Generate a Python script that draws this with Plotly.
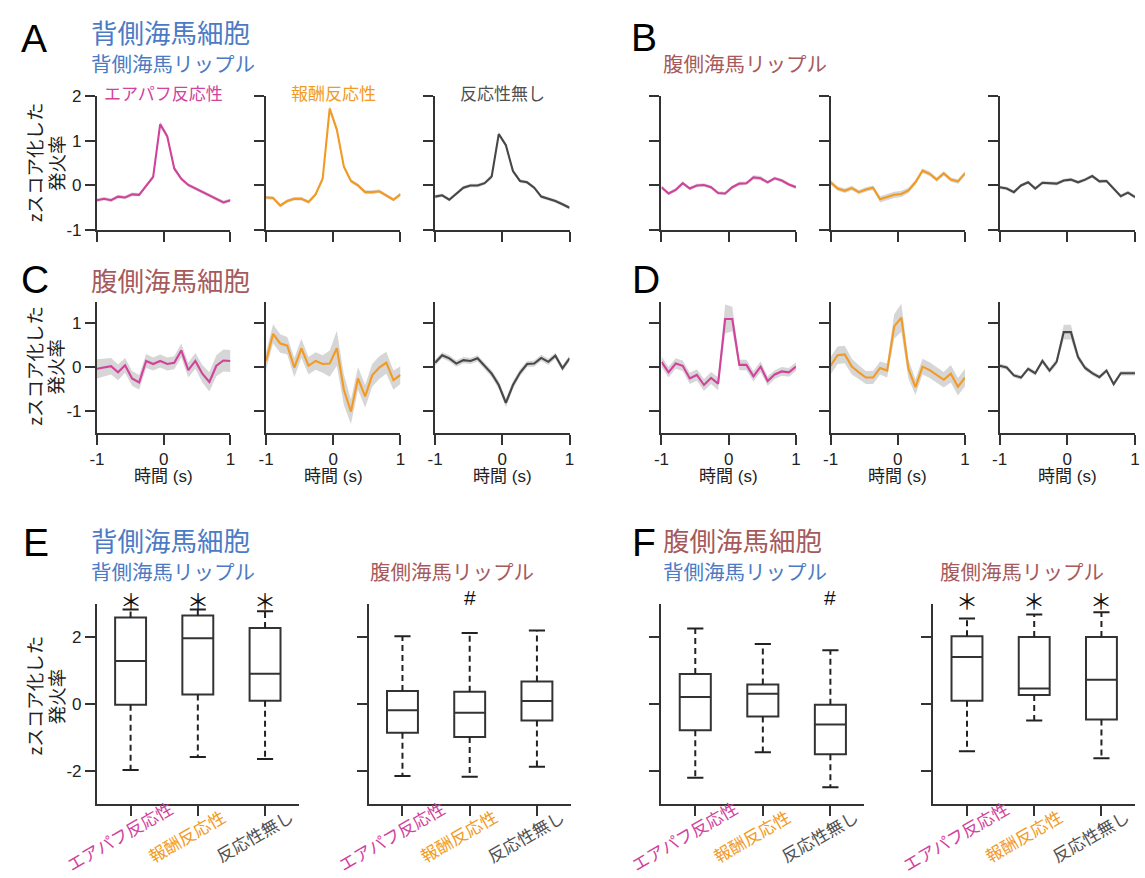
import plotly.graph_objects as go

W, H = 1145, 878

# ---------------- data ----------------
time_s = [-1.0, -0.895, -0.789, -0.684, -0.579, -0.474, -0.368, -0.263, -0.158, -0.053,
          0.053, 0.158, 0.263, 0.368, 0.474, 0.579, 0.684, 0.789, 0.895, 1.0]

# A: dorsal cells, dorsal ripples
A_air = [-0.33, -0.30, -0.33, -0.25, -0.27, -0.20, -0.21, 0.00, 0.19, 1.37, 1.10, 0.38, 0.15, 0.01, -0.07, -0.15, -0.22, -0.30, -0.38, -0.33]
A_rew = [-0.27, -0.28, -0.45, -0.35, -0.30, -0.30, -0.37, -0.20, 0.15, 1.72, 1.25, 0.42, 0.10, 0.00, -0.15, -0.15, -0.13, -0.22, -0.32, -0.20]
A_non = [-0.25, -0.22, -0.32, -0.18, -0.05, 0.00, 0.00, 0.05, 0.20, 1.15, 0.90, 0.32, 0.10, 0.07, -0.05, -0.25, -0.30, -0.35, -0.42, -0.50]
A_air_sem = [0.04, 0.04, 0.04, 0.04, 0.04, 0.04, 0.04, 0.04, 0.05, 0.06, 0.06, 0.05, 0.04, 0.04, 0.04, 0.04, 0.04, 0.04, 0.04, 0.04]
A_rew_sem = [0.04, 0.04, 0.04, 0.04, 0.04, 0.04, 0.04, 0.04, 0.05, 0.07, 0.06, 0.05, 0.04, 0.04, 0.04, 0.04, 0.04, 0.04, 0.04, 0.04]
A_non_sem = [0.04, 0.04, 0.04, 0.04, 0.04, 0.04, 0.04, 0.04, 0.05, 0.05, 0.05, 0.05, 0.04, 0.04, 0.04, 0.04, 0.04, 0.04, 0.04, 0.04]

# B: dorsal cells, ventral ripples
B_air = [-0.04, -0.18, -0.10, 0.05, -0.07, 0.00, 0.01, -0.04, -0.17, -0.18, -0.04, 0.04, 0.05, 0.18, 0.16, 0.07, 0.16, 0.11, 0.02, -0.04]
B_rew = [0.07, -0.07, -0.12, -0.06, -0.15, -0.09, -0.05, -0.31, -0.26, -0.21, -0.19, -0.11, 0.07, 0.33, 0.26, 0.13, 0.27, 0.13, 0.09, 0.27]
B_non = [-0.04, -0.07, -0.15, 0.00, 0.07, -0.07, 0.06, 0.05, 0.04, 0.11, 0.13, 0.07, 0.13, 0.21, 0.09, 0.10, -0.06, -0.24, -0.16, -0.26]
B_air_sem = [0.04, 0.04, 0.04, 0.04, 0.04, 0.04, 0.04, 0.04, 0.04, 0.04, 0.04, 0.04, 0.04, 0.05, 0.05, 0.04, 0.04, 0.04, 0.04, 0.04]
B_rew_sem = [0.05, 0.05, 0.05, 0.05, 0.05, 0.05, 0.05, 0.07, 0.07, 0.07, 0.07, 0.06, 0.05, 0.05, 0.05, 0.05, 0.05, 0.05, 0.05, 0.05]
B_non_sem = [0.04, 0.04, 0.04, 0.04, 0.04, 0.04, 0.04, 0.04, 0.04, 0.04, 0.04, 0.04, 0.04, 0.04, 0.04, 0.04, 0.04, 0.04, 0.04, 0.04]

# C: ventral cells, dorsal ripples
C_air = [-0.04, -0.01, 0.02, -0.12, 0.04, -0.26, -0.35, 0.14, 0.07, 0.14, 0.07, 0.10, 0.38, -0.07, 0.14, -0.15, -0.34, 0.03, 0.15, 0.14]
C_rew = [0.14, 0.76, 0.54, 0.49, -0.01, 0.43, 0.03, 0.14, 0.07, 0.08, 0.43, -0.52, -1.02, -0.26, -0.67, -0.19, -0.01, 0.10, -0.30, -0.18]
C_non = [0.10, 0.27, 0.20, 0.08, 0.16, 0.14, 0.20, 0.03, -0.15, -0.41, -0.82, -0.41, -0.13, 0.07, 0.08, 0.21, 0.12, 0.26, -0.03, 0.20]
C_air_sem = [0.22, 0.20, 0.19, 0.18, 0.17, 0.17, 0.17, 0.16, 0.15, 0.15, 0.15, 0.15, 0.16, 0.17, 0.18, 0.20, 0.22, 0.24, 0.25, 0.25]
C_rew_sem = [0.20, 0.22, 0.21, 0.20, 0.22, 0.22, 0.20, 0.20, 0.20, 0.30, 0.40, 0.35, 0.28, 0.26, 0.26, 0.26, 0.26, 0.25, 0.22, 0.20]
C_non_sem = [0.07, 0.07, 0.07, 0.07, 0.07, 0.07, 0.07, 0.07, 0.08, 0.09, 0.10, 0.09, 0.08, 0.07, 0.07, 0.07, 0.07, 0.07, 0.07, 0.07]

# D: ventral cells, ventral ripples
D_air = [0.12, -0.12, 0.08, 0.03, -0.26, -0.18, -0.41, -0.25, -0.38, 1.10, 1.10, 0.05, 0.05, -0.21, 0.01, -0.32, -0.17, -0.10, -0.12, 0.01]
D_rew = [0.03, 0.27, 0.29, 0.01, -0.12, -0.24, -0.24, -0.02, -0.08, 0.93, 1.13, -0.04, -0.46, 0.01, -0.07, -0.19, -0.29, -0.15, -0.45, -0.24]
D_non = [0.03, -0.01, -0.19, -0.24, -0.04, -0.14, 0.14, -0.08, 0.12, 0.80, 0.80, 0.23, -0.02, -0.14, -0.23, -0.08, -0.39, -0.14, -0.14, -0.14]
D_air_sem = [0.12, 0.12, 0.12, 0.12, 0.13, 0.13, 0.14, 0.14, 0.15, 0.33, 0.28, 0.12, 0.12, 0.12, 0.12, 0.11, 0.10, 0.10, 0.10, 0.10]
D_rew_sem = [0.20, 0.20, 0.20, 0.18, 0.16, 0.15, 0.15, 0.15, 0.16, 0.28, 0.32, 0.22, 0.18, 0.18, 0.18, 0.18, 0.18, 0.20, 0.20, 0.20]
D_non_sem = [0.05, 0.05, 0.05, 0.05, 0.05, 0.05, 0.06, 0.06, 0.07, 0.17, 0.17, 0.08, 0.06, 0.05, 0.05, 0.05, 0.05, 0.05, 0.05, 0.05]

# box plots: z-scored firing rate, groups = air-puff / reward / non-responsive
box_groups = ["エアパフ反応性", "報酬反応性", "反応性無し"]

E_dr_lower = [-1.97, -1.58, -1.64]
E_dr_q1 = [-0.02, 0.29, 0.10]
E_dr_med = [1.29, 1.97, 0.91]
E_dr_q3 = [2.59, 2.65, 2.28]
E_dr_upper = [2.83, 2.83, 2.78]
E_dr_sig = ["＊", "＊", "＊"]

E_vr_lower = [-2.15, -2.17, -1.87]
E_vr_q1 = [-0.86, -0.98, -0.49]
E_vr_med = [-0.18, -0.26, 0.09]
E_vr_q3 = [0.39, 0.37, 0.68]
E_vr_upper = [2.03, 2.13, 2.20]
E_vr_sig = ["", "#", ""]

F_dr_lower = [-2.20, -1.44, -2.49]
F_dr_q1 = [-0.78, -0.37, -1.50]
F_dr_med = [0.21, 0.31, -0.61]
F_dr_q3 = [0.90, 0.59, -0.02]
F_dr_upper = [2.26, 1.80, 1.61]
F_dr_sig = ["", "", "#"]

F_vr_lower = [-1.41, -0.49, -1.62]
F_vr_q1 = [0.10, 0.27, -0.46]
F_vr_med = [1.41, 0.47, 0.73]
F_vr_q3 = [2.03, 2.01, 2.01]
F_vr_upper = [2.56, 2.68, 2.75]
F_vr_sig = ["＊", "＊", "＊"]

# ---------------- style ----------------
PINK = "#D2419B"
ORANGE = "#F29A22"
GRAYL = "#474747"
GRAYT = "#505050"
BLUE = "#4B7BC4"
BROWN = "#A65A5C"
AXC = "#333333"
BAND = "rgba(165,165,165,0.45)"
FONT = "Liberation Sans, Noto Sans CJK JP, sans-serif"
JFONT = "Noto Sans CJK JP, sans-serif"
group_colors = [PINK, ORANGE, GRAYT]


def fx(p):
    return p / W


def fy(p):
    return 1 - p / H


AX = dict(showline=True, linecolor=AXC, linewidth=2, ticks="outside", ticklen=10,
          tickwidth=2, tickcolor=AXC, showgrid=False, zeroline=False,
          tickfont=dict(size=17, color="#222222", family=FONT), fixedrange=True)

fig = go.Figure()
layout = {}
annotations = []


def ann(text, x, y, size, color="#000000", xanchor="left", yanchor="middle",
        angle=0, family=JFONT, xref="paper", yref="paper", xshift=0):
    annotations.append(dict(
        text=text, x=fx(x) if xref == "paper" else x,
        y=fy(y) if yref == "paper" else y, xref=xref, yref=yref,
        xanchor=xanchor, yanchor=yanchor, textangle=angle, showarrow=False,
        xshift=xshift, font=dict(size=size, color=color, family=family)))


# ---------------- line panels ----------------
col_px = [[(90, 225), (261, 397), (432, 568)], [(661, 797), (832, 968), (1003, 1140)]]
row_px = [(89, 226), (299, 433)]
row_range = [[-1, 2], [-1.5, 1.5]]
row_ticks = [[-1, 0, 1, 2], [-1, 0, 1]]

line_sets = [
    [(A_air, A_air_sem), (A_rew, A_rew_sem), (A_non, A_non_sem)],
    [(B_air, B_air_sem), (B_rew, B_rew_sem), (B_non, B_non_sem)],
    [(C_air, C_air_sem), (C_rew, C_rew_sem), (C_non, C_non_sem)],
    [(D_air, D_air_sem), (D_rew, D_rew_sem), (D_non, D_non_sem)],
]
line_colors = [PINK, ORANGE, GRAYL]

n = 0
for r in range(2):
    for g in range(2):
        series = line_sets[r * 2 + g]
        for c in range(3):
            n += 1
            xs = "x" if n == 1 else f"x{n}"
            ys = "y" if n == 1 else f"y{n}"
            vals, sem = series[c]
            up = [v + s for v, s in zip(vals, sem)]
            lo = [v - s for v, s in zip(vals, sem)]
            fig.add_trace(go.Scatter(x=time_s + time_s[::-1], y=up + lo[::-1], fill="toself",
                                     fillcolor=BAND, line=dict(width=0), mode="lines",
                                     hoverinfo="skip", showlegend=False, xaxis=xs, yaxis=ys))
            fig.add_trace(go.Scatter(x=time_s, y=vals, mode="lines",
                                     line=dict(color=line_colors[c], width=2.1),
                                     showlegend=False, xaxis=xs, yaxis=ys))
            x0, x1 = col_px[g][c]
            y0, y1 = row_px[r]
            xa = dict(AX, domain=[fx(x0), fx(x1)], range=[-1, 1], tickvals=[-1, 0, 1],
                      ticktext=["-1", "0", "1"], showticklabels=(r == 1), anchor=ys)
            ya = dict(AX, domain=[fy(y1), fy(y0)], range=row_range[r], tickvals=row_ticks[r],
                      ticktext=[str(t) for t in row_ticks[r]],
                      showticklabels=(g == 0 and c == 0), anchor=xs)
            layout["xaxis" if n == 1 else f"xaxis{n}"] = xa
            layout["yaxis" if n == 1 else f"yaxis{n}"] = ya
            if r == 1:
                ann("時間 (s)", (x0 + x1) / 2, 478, 17, "#222222", xanchor="center", family=FONT)

# ---------------- box panels ----------------
box_px = [(90, 294), (365, 569), (661, 866), (936, 1140)]
box_y = (608, 813)
box_sets = [
    (E_dr_lower, E_dr_q1, E_dr_med, E_dr_q3, E_dr_upper, E_dr_sig),
    (E_vr_lower, E_vr_q1, E_vr_med, E_vr_q3, E_vr_upper, E_vr_sig),
    (F_dr_lower, F_dr_q1, F_dr_med, F_dr_q3, F_dr_upper, F_dr_sig),
    (F_vr_lower, F_vr_q1, F_vr_med, F_vr_q3, F_vr_upper, F_vr_sig),
]
cats = [0, 1, 2]
CAP = 0.12
for b, (lower, q1, med, q3, upper, sig) in enumerate(box_sets):
    n += 1
    xs, ys = f"x{n}", f"y{n}"
    fig.add_trace(go.Box(x=cats, q1=q1, median=med, q3=q3, lowerfence=q1, upperfence=q3,
                         width=0.46, whiskerwidth=0, boxpoints=False,
                         line=dict(color=AXC, width=2), fillcolor="rgba(0,0,0,0)",
                         showlegend=False, xaxis=xs, yaxis=ys))
    wx, wy, cx, cy = [], [], [], []
    for i in cats:
        wx += [i, i, None, i, i, None]
        wy += [q3[i], upper[i], None, q1[i], lower[i], None]
        cx += [i - CAP, i + CAP, None, i - CAP, i + CAP, None]
        cy += [upper[i], upper[i], None, lower[i], lower[i], None]
    fig.add_trace(go.Scatter(x=wx, y=wy, mode="lines", line=dict(color="#222222", width=2, dash="6px,4px"),
                             showlegend=False, hoverinfo="skip", xaxis=xs, yaxis=ys))
    fig.add_trace(go.Scatter(x=cx, y=cy, mode="lines", line=dict(color="#222222", width=2),
                             showlegend=False, hoverinfo="skip", xaxis=xs, yaxis=ys))
    x0, x1 = box_px[b]
    layout[f"xaxis{n}"] = dict(AX, domain=[fx(x0), fx(x1)], range=[-0.5, 2.5], tickvals=cats,
                               showticklabels=False, anchor=ys)
    layout[f"yaxis{n}"] = dict(AX, domain=[fy(box_y[1]), fy(box_y[0])], range=[-3, 3],
                               tickvals=[-2, 0, 2], ticktext=["-2", "0", "2"],
                               showticklabels=(b == 0), anchor=xs)
    for i in cats:
        ann(box_groups[i], i, 845, 17, group_colors[i], xanchor="center", angle=-30,
            xref=xs, xshift=-11)
        if sig[i]:
            if sig[i] == "#":
                ann(sig[i], i, 602, 21, "#111111", xanchor="center", xref=xs, family=FONT)
            else:
                ann(sig[i], i, 603, 22, "#111111", xanchor="center", xref=xs)

# ---------------- titles / labels ----------------
for letter, x, y in [("A", 11, 30), ("B", 628, 29), ("C", 11, 276), ("D", 629, 276),
                     ("E", 13, 545), ("F", 629, 545)]:
    ann(letter, x, y, 39, "#000000", family=FONT)

ann("背側海馬細胞", 82, 23, 26.5, BLUE)
ann("背側海馬リップル", 82, 55, 20.5, BLUE)
ann("腹側海馬リップル", 660, 55, 20.5, BROWN)
ann("腹側海馬細胞", 82, 276, 26.5, BROWN)
ann("背側海馬細胞", 82, 542, 26.5, BLUE)
ann("背側海馬リップル", 82, 574, 20.5, BLUE)
ann("腹側海馬リップル", 364, 574, 20.5, BROWN)
ann("腹側海馬細胞", 660, 542, 26.5, BROWN)
ann("背側海馬リップル", 660, 574, 20.5, BLUE)
ann("腹側海馬リップル", 941, 574, 20.5, BROWN)

for (x0, x1), txt, col in zip(col_px[0], box_groups, group_colors):
    ann(txt, (x0 + x1) / 2, 85, 17, col, xanchor="center")

for yc in [157, 365, 702]:
    ann("zスコア化した", 26, yc, 18.5, "#222222", xanchor="center", angle=-90)
    ann("発火率", 48, yc, 18.5, "#222222", xanchor="center", angle=-90)

fig.update_layout(
    width=W, height=H, margin=dict(l=0, r=0, t=0, b=0),
    paper_bgcolor="white", plot_bgcolor="white", showlegend=False,
    font=dict(family=FONT), annotations=annotations, **layout)

fig.write_html("out.html")
